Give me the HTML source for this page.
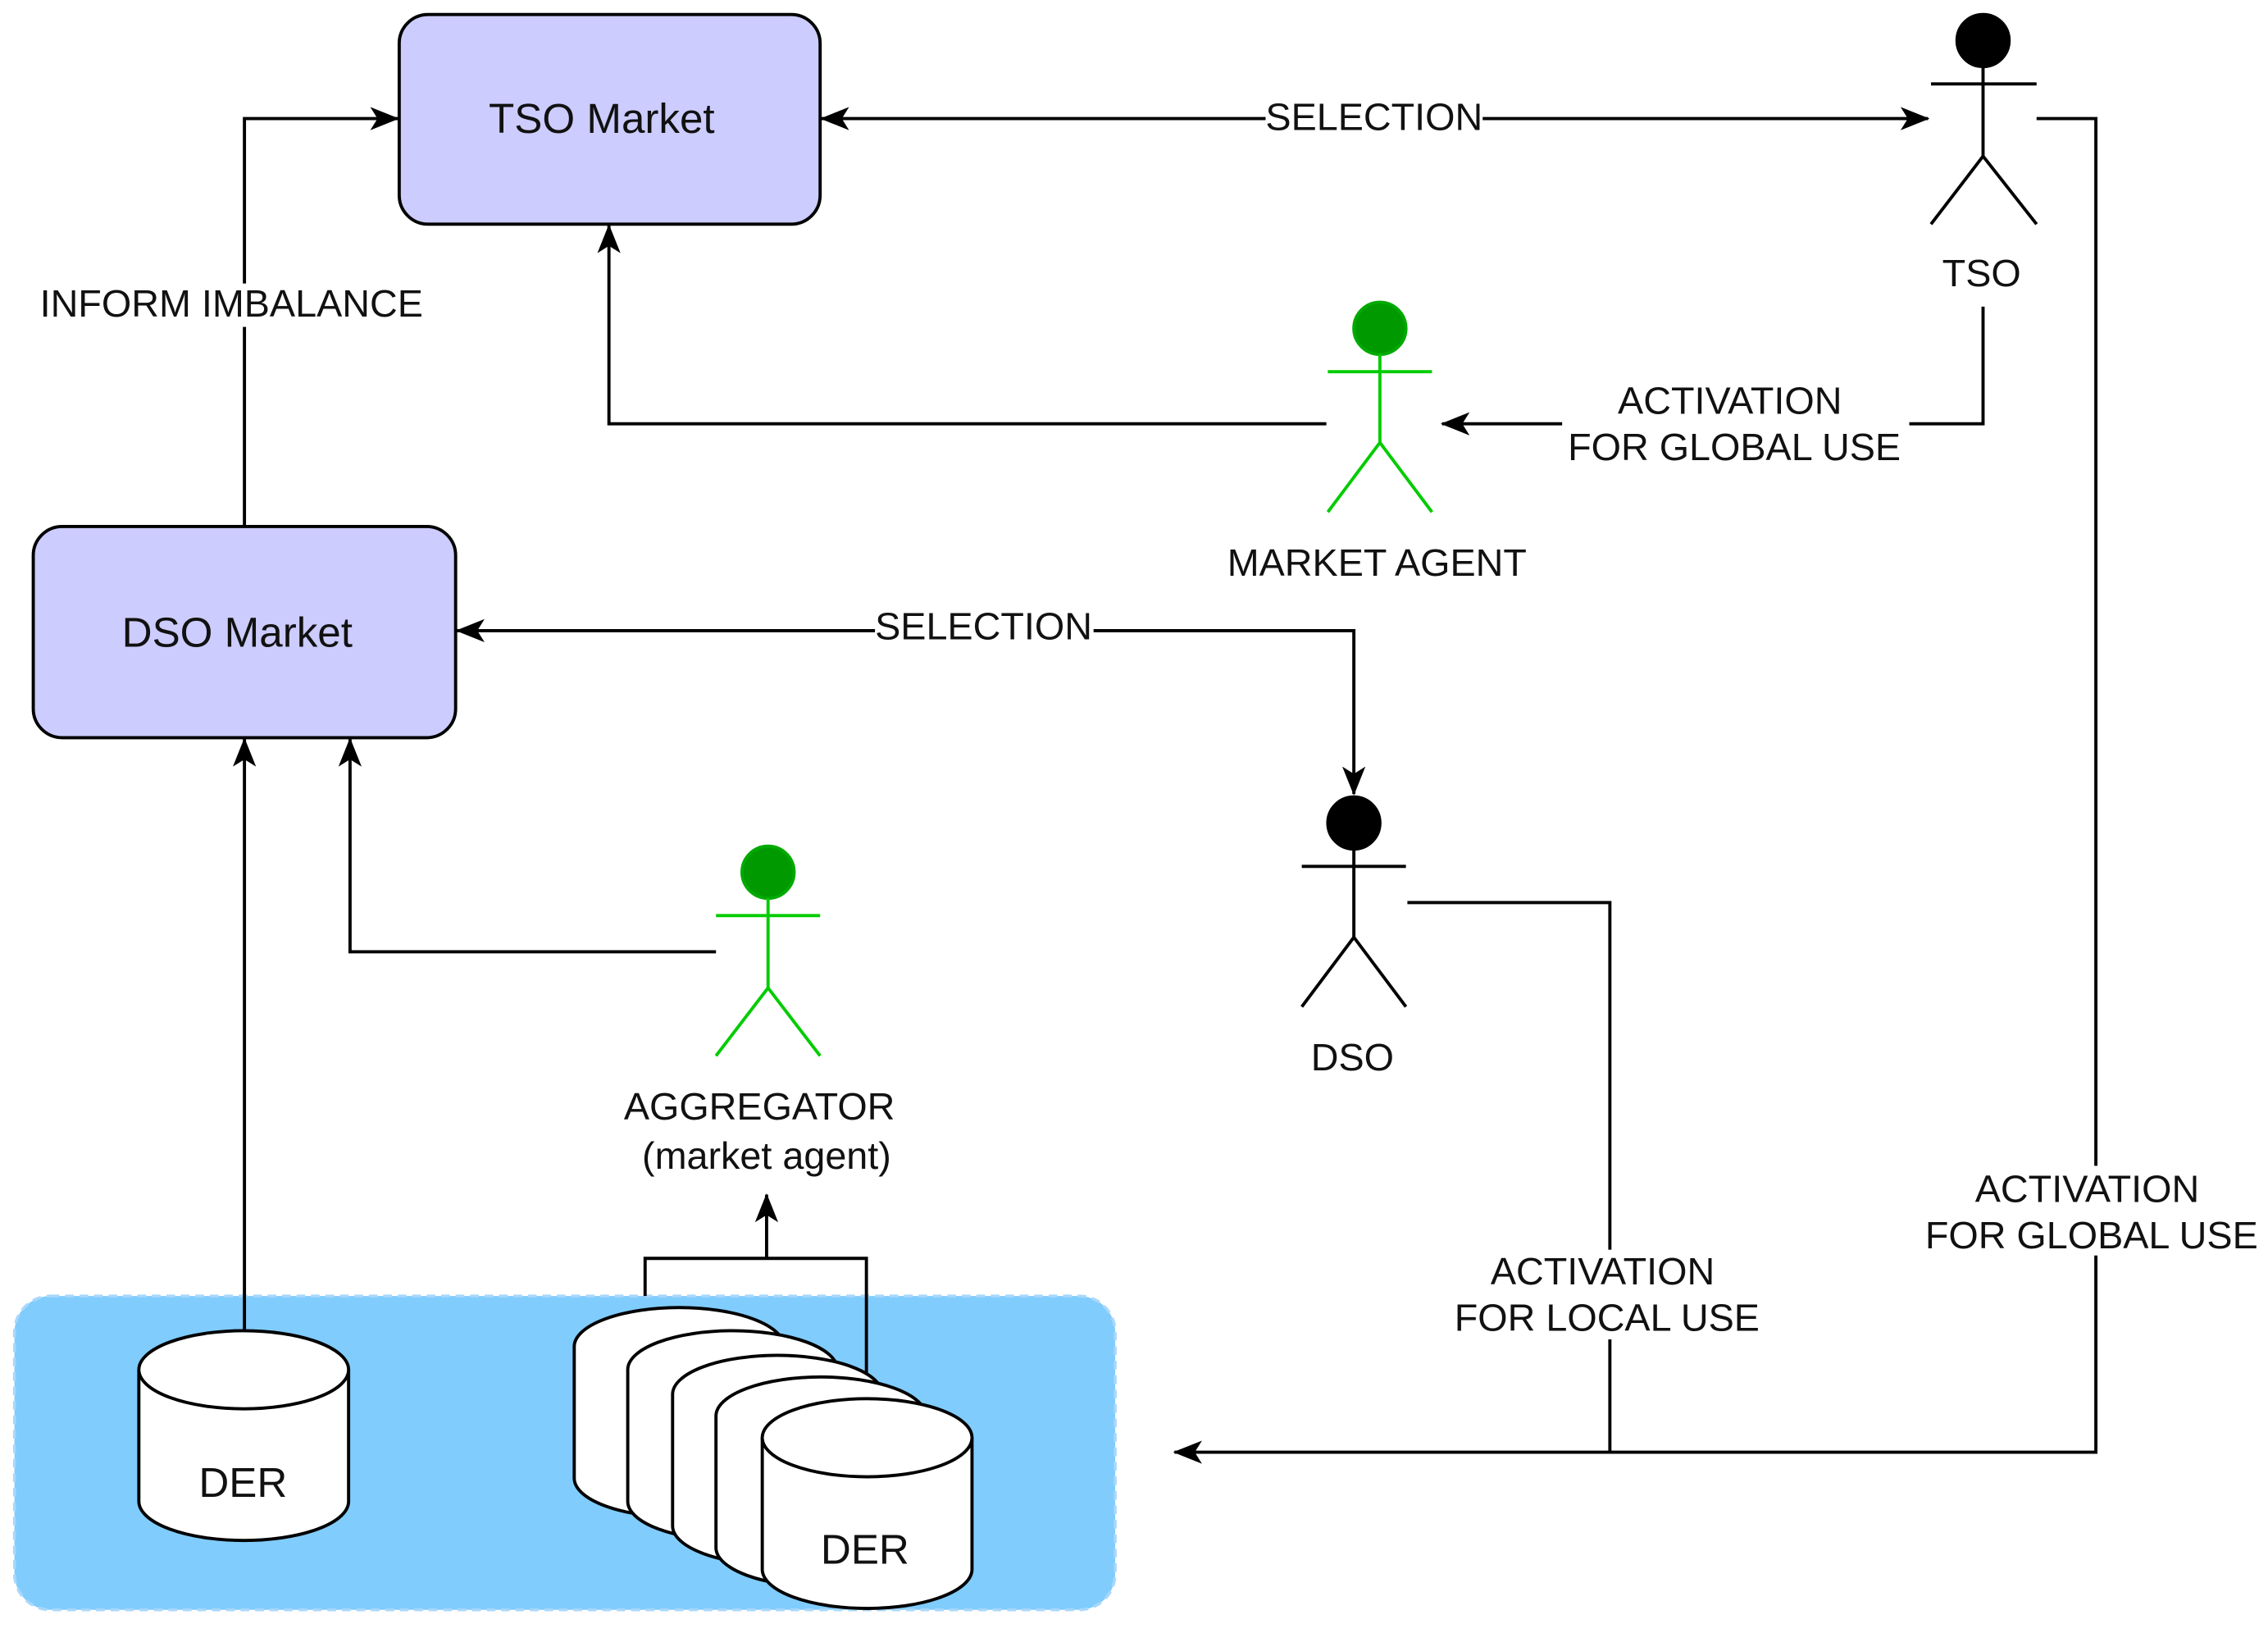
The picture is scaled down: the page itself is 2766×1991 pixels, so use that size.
<!DOCTYPE html>
<html><head><meta charset="utf-8"><style>
html,body{margin:0;padding:0;background:#fff}
svg{display:block}
text{font-family:"Liberation Sans",Arial,sans-serif;fill:#111}
</style></head><body>
<svg width="2766" height="1991" viewBox="0 0 1568 1129" preserveAspectRatio="none" xmlns="http://www.w3.org/2000/svg">
<defs>
<marker id="a" viewBox="0 0 20 20" refX="19" refY="10" markerWidth="20" markerHeight="20" markerUnits="userSpaceOnUse" orient="auto">
<path d="M0,2 L20,10 L0,18 L5,10 Z" fill="#000"/>
</marker>
</defs>
<rect x="10" y="896" width="761" height="217" rx="25" fill="#80ccfd" stroke="#a8d8fb" stroke-width="2" stroke-dasharray="6,4"/>
<g fill="none" stroke="#000" stroke-width="2.2">
<path d="M169,364 V82 H275" marker-end="url(#a)"/>
<path d="M875,82 H568" marker-end="url(#a)"/>
<path d="M1025,82 H1333" marker-end="url(#a)"/>
<path d="M1371,212 V293 H997" marker-end="url(#a)"/>
<path d="M917,293 H421 V156" marker-end="url(#a)"/>
<path d="M605,436 H316" marker-end="url(#a)"/>
<path d="M756,436 H936 V549" marker-end="url(#a)"/>
<path d="M973,624 H1113 V1004"/>
<path d="M1408,82 H1449 V1004 H812" marker-end="url(#a)"/>
<path d="M169,920 V511" marker-end="url(#a)"/>
<path d="M495,658 H242 V511" marker-end="url(#a)"/>
<path d="M446,896 V870 H599 V952"/>
<path d="M530,870 V826" marker-end="url(#a)"/>
</g>
<rect x="276" y="10" width="291" height="145" rx="20" fill="#ccccff" stroke="#000" stroke-width="2.2"/>
<text x="416" y="92" font-size="29" text-anchor="middle">TSO Market</text>
<rect x="23" y="364" width="292" height="146" rx="20" fill="#ccccff" stroke="#000" stroke-width="2.2"/>
<text x="164" y="447" font-size="29" text-anchor="middle">DSO Market</text>
<rect x="24" y="196" width="272" height="30" fill="#fff"/>
<text x="160" y="219" font-size="26.5" text-anchor="middle">INFORM IMBALANCE</text>
<rect x="875" y="68" width="150" height="28" fill="#fff"/>
<text x="950" y="90" font-size="26.5" text-anchor="middle">SELECTION</text>
<rect x="605" y="422" width="151" height="28" fill="#fff"/>
<text x="680" y="442" font-size="26.5" text-anchor="middle">SELECTION</text>
<rect x="1080" y="262" width="240" height="62" fill="#fff"/>
<text x="1196" y="286" font-size="26.5" text-anchor="middle">ACTIVATION</text>
<text x="1199" y="318" font-size="26.5" text-anchor="middle">FOR GLOBAL USE</text>
<rect x="1003" y="864" width="218" height="62" fill="#fff"/>
<text x="1108" y="888" font-size="26.5" text-anchor="middle">ACTIVATION</text>
<text x="1111" y="920" font-size="26.5" text-anchor="middle">FOR LOCAL USE</text>
<rect x="1330" y="806" width="236" height="62" fill="#fff"/>
<text x="1443" y="831" font-size="26.5" text-anchor="middle">ACTIVATION</text>
<text x="1446" y="863" font-size="26.5" text-anchor="middle">FOR GLOBAL USE</text>
<g stroke="#000" stroke-width="2.2" fill="none">
<circle cx="1371" cy="28" r="18" fill="#000"/>
<path d="M1371,46 V108 M1335,58 H1408 M1335,155 L1371,108 L1408,155"/>
<circle cx="936" cy="569" r="18" fill="#000"/>
<path d="M936,587 V648 M900,599 H972 M900,696 L936,648 L972,696"/>
</g>
<g stroke="#00cc00" stroke-width="2.2" fill="none">
<circle cx="954" cy="227" r="18" fill="#009900" stroke="#00aa00"/>
<path d="M954,245 V306 M918,257 H990 M918,354 L954,306 L990,354"/>
<circle cx="531" cy="603" r="18" fill="#009900" stroke="#00aa00"/>
<path d="M531,621 V683 M495,633 H567 M495,730 L531,683 L567,730"/>
</g>
<text x="1370" y="198" font-size="26.5" text-anchor="middle">TSO</text>
<text x="952" y="398" font-size="26.5" text-anchor="middle">MARKET AGENT</text>
<text x="935" y="740" font-size="26.5" text-anchor="middle">DSO</text>
<text x="525" y="774" font-size="26.5" text-anchor="middle">AGGREGATOR</text>
<text x="530" y="808" font-size="26.5" text-anchor="middle">(market agent)</text>
<g fill="#fff" stroke="#000" stroke-width="2.2">
<path d="M96,947 A72.5,27 0 0 1 241,947 V1038 A72.5,27 0 0 1 96,1038 Z"/>
<path d="M96,947 A72.5,27 0 0 0 241,947"/>
<path d="M397,931 A72.5,27 0 0 1 542,931 V1022 A72.5,27 0 0 1 397,1022 Z"/>
<path d="M434,947 A72.5,27 0 0 1 579,947 V1038 A72.5,27 0 0 1 434,1038 Z"/>
<path d="M465,964 A72.5,27 0 0 1 610,964 V1055 A72.5,27 0 0 1 465,1055 Z"/>
<path d="M495,979 A72.5,27 0 0 1 640,979 V1070 A72.5,27 0 0 1 495,1070 Z"/>
<path d="M527,994 A72.5,27 0 0 1 672,994 V1085 A72.5,27 0 0 1 527,1085 Z"/>
<path d="M527,994 A72.5,27 0 0 0 672,994"/>
</g>
<text x="168" y="1035" font-size="29" text-anchor="middle">DER</text>
<text x="598" y="1081" font-size="29" text-anchor="middle">DER</text>
</svg>
</body></html>
